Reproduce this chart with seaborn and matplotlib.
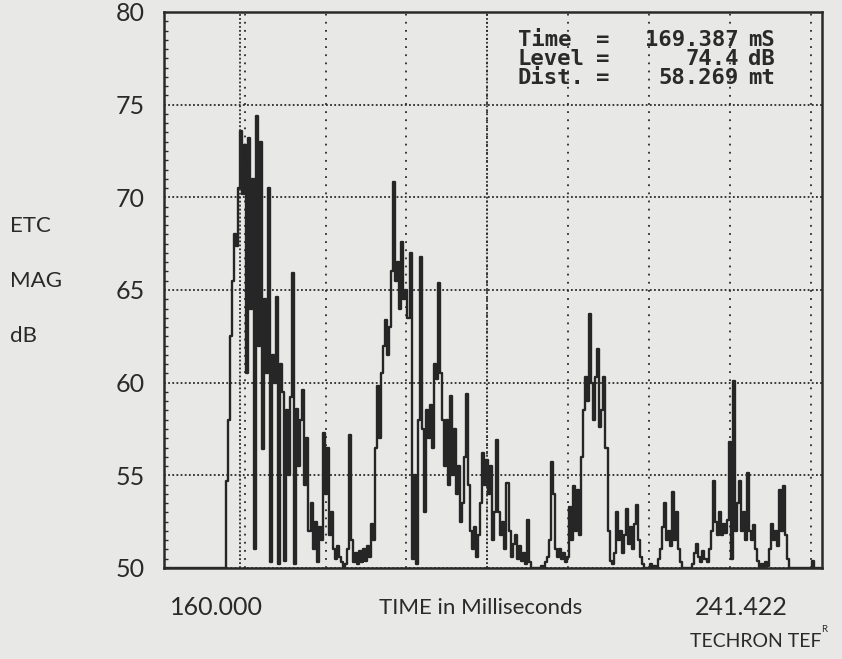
import numpy as np
import pandas as pd
import matplotlib
matplotlib.use("Agg")
import matplotlib.pyplot as plt
import seaborn as sns

# ETC magnitude trace, one reading every 0.25 ms starting at 160 ms (dB)
t_start = 160.0
t_step = 0.25
level_db = [
    50.0, 50.0, 50.0, 50.0, 50.0, 50.0, 50.0, 50.0, 50.0, 50.0, 50.0, 50.0, 50.0, 50.0, 50.0, 50.0, 50.0, 50.0, 50.0, 50.0,
    50.0, 50.0, 50.0, 50.0, 50.0, 50.0, 50.0, 50.0, 50.0, 50.0, 50.0, 54.7, 58.0, 62.5, 65.5, 68.0, 67.4, 70.5, 73.6, 70.2,
    72.8, 60.5, 73.2, 64.0, 71.0, 51.0, 74.4, 62.0, 73.0, 56.4, 64.5, 60.5, 70.5, 50.3, 61.5, 60.0, 64.6, 50.2, 61.0, 59.5,
    50.4, 58.5, 55.0, 59.2, 65.9, 50.2, 58.6, 55.5, 58.0, 59.6, 54.5, 57.0, 52.0, 53.5, 51.0, 52.5, 50.3, 52.2, 51.5, 57.3,
    54.0, 56.5, 51.8, 53.0, 51.0, 50.5, 51.2, 50.6, 50.3, 50.0, 50.2, 51.0, 57.2, 51.5, 50.3, 50.8, 50.2, 50.9, 50.3, 51.0,
    50.4, 51.2, 50.6, 52.4, 51.5, 56.5, 59.8, 57.0, 60.5, 62.0, 63.4, 61.5, 63.0, 66.0, 70.8, 65.5, 66.5, 64.0, 67.6, 64.5,
    65.0, 63.5, 67.0, 50.5, 55.0, 50.2, 58.0, 66.8, 57.5, 53.0, 58.5, 57.0, 58.8, 56.5, 61.0, 60.2, 65.4, 60.5, 58.0, 55.5,
    58.0, 54.5, 59.3, 55.0, 57.5, 54.0, 55.5, 52.5, 53.5, 56.0, 59.4, 54.5, 52.0, 51.0, 52.2, 50.6, 51.8, 53.5, 56.2, 54.5,
    55.8, 54.0, 55.5, 51.5, 53.0, 56.9, 53.0, 51.8, 52.5, 51.0, 54.6, 52.0, 50.6, 51.3, 51.8, 50.5, 51.2, 50.4, 50.8, 50.2,
    52.6, 50.3, 50.0, 50.0, 50.0, 50.0, 50.0, 50.1, 50.0, 50.3, 50.6, 51.5, 55.7, 54.0, 51.0, 50.6, 51.0, 50.5, 50.8, 50.3,
    50.6, 53.3, 51.5, 54.4, 52.0, 54.2, 51.8, 56.0, 58.5, 60.3, 59.0, 63.7, 60.0, 58.0, 60.3, 61.8, 57.6, 58.5, 60.3, 56.5,
    52.0, 50.4, 50.2, 50.8, 53.0, 51.5, 52.0, 50.8, 51.8, 53.2, 51.3, 52.2, 51.0, 52.4, 53.4, 51.5, 50.6, 50.2, 50.0, 50.0,
    50.0, 50.2, 50.0, 50.1, 50.0, 50.5, 51.0, 52.2, 53.5, 51.5, 52.0, 51.2, 54.1, 51.5, 53.0, 51.0, 50.3, 50.0, 50.0, 50.0,
    50.0, 50.0, 50.2, 50.8, 51.3, 50.6, 50.3, 50.9, 50.5, 50.3, 51.0, 52.0, 54.7, 52.5, 51.8, 53.0, 51.8, 52.4, 51.9, 52.6,
    56.8, 50.5, 60.1, 52.0, 53.5, 54.7, 52.0, 53.0, 51.5, 55.1, 52.0, 51.5, 52.3, 51.0, 50.4, 50.0, 50.2, 50.0, 50.3, 50.1,
    51.0, 52.4, 51.5, 52.0, 51.2, 54.2, 52.0, 54.4, 51.8, 50.5, 50.0, 50.0, 50.0, 50.0, 50.0, 50.0, 50.0, 50.0, 50.0, 50.0,
    50.0, 50.4, 50.0, 50.0, 50.0, 50.0,
]

t_min, t_max = 160.000, 241.422
grid_times = [170, 180, 190, 200, 210, 220, 230, 240]
y_ticks = [50, 55, 60, 65, 70, 75, 80]
cursor_time = 169.387

readout_names = ["Time", "Level", "Dist."]
readout_values = ["169.387", "74.4", "58.269"]
readout_units = ["mS", "dB", "mt"]

df = pd.DataFrame({
    "time": t_start + t_step * np.arange(len(level_db)),
    "level": level_db,
})

paper = "#e8e8e6"
ink = "#2a2a2a"

sns.set_theme(style="white")
plt.rcParams["font.family"] = ["Lato", "DejaVu Sans"]

fig = plt.figure(figsize=(8.42, 6.59), dpi=100, facecolor=paper)
ax = fig.add_axes([0.1948, 0.1381, 0.7815, 0.8437])
ax.set_facecolor(paper)

sns.lineplot(data=df, x="time", y="level", estimator=None, ax=ax,
             color="#262626", linewidth=1.7, drawstyle="steps-mid")

ax.set_xlim(t_min, t_max)
ax.set_ylim(50, 80)

# grid
ax.set_xticks(grid_times)
ax.set_xticklabels([])
ax.xaxis.grid(True, color=ink, linestyle=(0, (1, 3.5)), linewidth=1.3)
ax.axvline(200, color=ink, linestyle=(0, (1, 1.2)), linewidth=1.3)
ax.axvline(cursor_time, color=ink, linestyle=(0, (1, 1.2)), linewidth=1.3)
ax.set_yticks(y_ticks)
ax.set_yticklabels([str(v) for v in y_ticks], fontsize=18, color=ink)
ax.yaxis.grid(True, color=ink, linestyle=(0, (1, 1.3)), linewidth=1.3)
ax.set_yticks(np.arange(50, 80, 0.5), minor=True)
ax.tick_params(axis="y", which="major", length=0, pad=14)
ax.tick_params(axis="y", which="minor", left=True, direction="in", length=3, width=1, color=ink)
ax.tick_params(axis="x", length=0)
ax.set_xlabel("")
ax.set_ylabel("")

for s in ax.spines.values():
    s.set_color(ink)
    s.set_linewidth(1.8)

# readout box
mono = "DejaVu Sans Mono"
for i in range(3):
    yy = 0.939 - i * 0.0285
    fig.text(0.615, yy, readout_names[i], family=mono, weight="bold", fontsize=16, color=ink, va="center")
    fig.text(0.716, yy, "=", family=mono, weight="bold", fontsize=16, color=ink, va="center", ha="center")
    fig.text(0.8777, yy, readout_values[i], family=mono, weight="bold", fontsize=16, color=ink, va="center", ha="right")
    fig.text(0.888, yy, readout_units[i], family=mono, weight="bold", fontsize=16, color=ink, va="center")

# axis annotations
for lab, yy in zip(["ETC", "MAG", "dB"], [0.657, 0.574, 0.490]):
    fig.text(0.012, yy, lab, fontsize=16, color=ink, va="center")

fig.text(0.2565, 0.0774, f"{t_min:.3f}", fontsize=18, color=ink, ha="center", va="center")
fig.text(0.571, 0.0774, "TIME in Milliseconds", fontsize=16, color=ink, ha="center", va="center")
fig.text(0.880, 0.0774, f"{t_max:.3f}", fontsize=18, color=ink, ha="center", va="center")
fig.text(0.8195, 0.0273, "TECHRON TEF", fontsize=14, color=ink, ha="left", va="center")
fig.text(0.975, 0.045, "R", fontsize=7, color=ink, ha="left", va="center")

fig.savefig("out.png", dpi=100, facecolor=paper)
